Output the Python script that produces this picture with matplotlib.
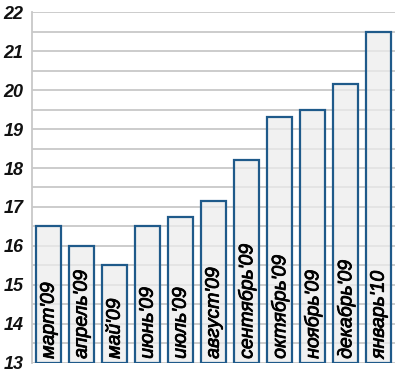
import matplotlib
matplotlib.use("Agg")
import matplotlib.pyplot as plt
import matplotlib.patheffects as pe
import numpy as np

categories = ["март'09", "апрель'09", "май'09", "июнь'09", "июль'09", "август'09",
              "сентябрь'09", "октябрь'09", "ноябрь'09", "декабрь'09", "январь'10"]
values = [16.5, 16.0, 15.5, 16.5, 16.75, 17.15, 18.2, 19.3, 19.5, 20.15, 21.5]
yticks = [13, 14, 15, 16, 17, 18, 19, 20, 21, 22]

plt.rcParams['font.family'] = ['Liberation Sans', 'DejaVu Sans']

fig = plt.figure(figsize=(4.0, 3.72), dpi=100)
ax = fig.add_axes([0.08, 0.025, 0.9075, 0.942])

x = np.arange(len(categories))
ax.set_xlim(-0.5, len(categories) - 0.5)
ax.set_ylim(13, 22)

for yv in np.arange(13, 22.01, 0.5):
    ax.axhline(yv, color='#c8c8c8', lw=1.3, zorder=1)

ax.bar(x, np.array(values) - 13, bottom=13, width=0.77,
       facecolor=(0.93, 0.93, 0.93, 0.75), edgecolor='#1f5a8a', linewidth=1.6, zorder=2)

for xi, lab in zip(x, categories):
    ax.text(xi + 0.02, 13.1, lab, rotation=90, ha='center', va='bottom',
            fontsize=14, fontstyle='italic', color='black', zorder=3,
            path_effects=[pe.withStroke(linewidth=0.6, foreground='black')])

ax.set_yticks(yticks)
ax.set_yticklabels([str(t) for t in yticks], fontsize=13, fontstyle='italic',
                   fontweight='bold', color='#111111')
ax.tick_params(axis='y', length=0, pad=6)
ax.set_xticks([])
for s in ['top', 'right', 'bottom']:
    ax.spines[s].set_visible(False)
ax.spines['left'].set_color('#c8c8c8')
ax.spines['left'].set_linewidth(1.3)
ax.set_facecolor('white')

fig.savefig('out.png', dpi=100)
